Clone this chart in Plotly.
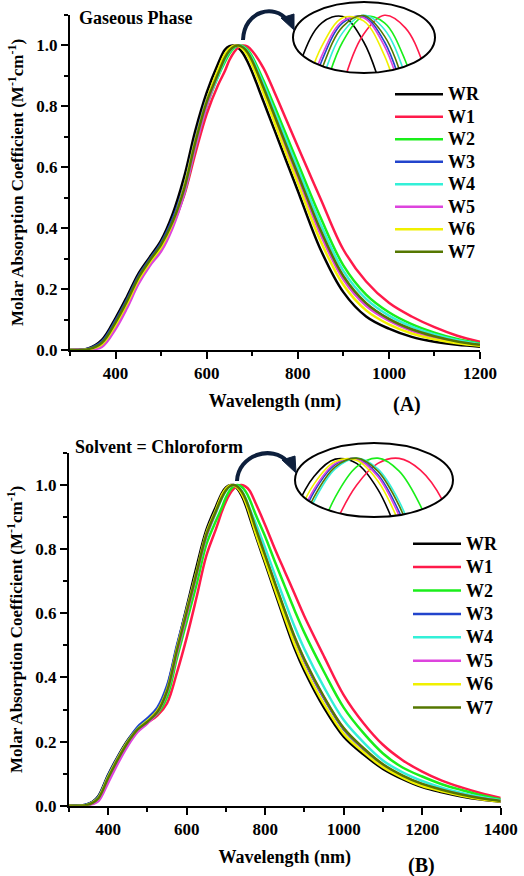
import plotly.graph_objects as go

W, H = 524, 876
FONT = "Liberation Serif, Times New Roman, serif"

names = ["WR", "W1", "W2", "W3", "W4", "W5", "W6", "W7"]
colors = ["#000000", "#FF1A4A", "#1AEE1A", "#2244CC", "#33F0D8", "#DD44DD", "#F0F000", "#557700"]

# ---------------- (A) Gaseous phase ----------------
wl_gas = [300, 340, 370, 400, 425, 450, 475, 500, 525, 550, 575, 600, 625, 640, 650, 660, 670, 680, 690, 700,
          725, 750, 775, 800, 850, 900, 950, 1000, 1050, 1100, 1150, 1200]
gas_WR = [0, .005, .033, .105, .175, .25, .305, .36, .445, .565, .72, .845, .94, .9856, .9976, .9996, .9916, .9736, .9456, .912,
          .815, .718, .62, .523, .33, .19, .11, .07, .043, .027, .017, .011]
gas_W1 = [0, .003, .022, .088, .158, .234, .292, .343, .41, .505, .645, .775, .87, .916, .952, .978, .994, 1.0, .996, .982,
          .925, .842, .755, .668, .497, .33, .225, .155, .11, .075, .047, .027]
gas_W2 = [0, .001, .017, .08, .149, .227, .285, .335, .408, .51, .664, .801, .898, .9456, .9736, .9916, .9996, .9976, .9856, .9636,
          .884, .796, .705, .614, .435, .278, .182, .124, .085, .057, .036, .021]
gas_W3 = [0, .004, .028, .097, .166, .242, .298, .352, .429, .537, .692, .823, .91, .9636, .9856, .9976, .9996, .9916, .9736, .945,
          .859, .764, .669, .575, .39, .24, .151, .101, .067, .044, .028, .017]
gas_W4 = [0, .002, .02, .085, .155, .232, .29, .34, .412, .515, .67, .805, .90, .9535, .979, .9945, 1.0, .9955, .981, .9565,
          .873, .78, .688, .596, .414, .26, .168, .113, .077, .051, .032, .019]
gas_W5 = [0, .001, .01, .069, .137, .216, .276, .324, .40, .51, .664, .801, .91, .9662, .9872, .9982, .9992, .9902, .9712, .942,
          .854, .758, .661, .567, .38, .232, .145, .096, .063, .041, .026, .016]
gas_W6 = [0, .002, .019, .083, .152, .229, .287, .338, .416, .532, .686, .819, .92, .9712, .9902, .9992, .9982, .9872, .9662, .935,
          .843, .743, .643, .548, .358, .214, .13, .084, .054, .035, .022, .014]
gas_W7 = [0, .003, .024, .091, .16, .237, .294, .346, .42, .526, .681, .814, .907, .9594, .9829, .9964, .9999, .9934, .9769, .950,
          .861, .766, .671, .578, .394, .243, .154, .102, .068, .045, .028, .017]
gas_series = [gas_WR, gas_W1, gas_W2, gas_W3, gas_W4, gas_W5, gas_W6, gas_W7]

# ---------------- (B) Chloroform ----------------
wl_chl = [300, 340, 360, 375, 400, 425, 450, 475, 500, 525, 550, 575, 600, 625, 650, 675, 690, 700, 710, 720,
          730, 740, 750, 760, 775, 800, 825, 850, 875, 900, 950, 1000, 1050, 1100, 1150, 1200, 1250, 1300, 1350, 1400]
chl_WR = [0, .002, .012, .03, .097, .155, .205, .243, .268, .30, .37, .495, .62, .745, .86, .935, .976, .9924, .9996, .9978,
          .987, .967, .938, .901, .845, .755, .665, .575, .49, .42, .305, .215, .16, .115, .083, .058, .042, .029, .019, .012]
chl_W1 = [0, .001, .008, .021, .085, .144, .194, .234, .259, .281, .32, .415, .525, .65, .78, .865, .919, .949, .9726, .9887,
          .9978, .9999, .995, .983, .945, .875, .80, .73, .66, .59, .465, .345, .258, .19, .142, .106, .078, .057, .039, .024]
chl_W2 = [0, .001, .009, .023, .087, .146, .198, .237, .262, .287, .34, .46, .575, .69, .815, .89, .9316, .9622, .9838, .9964,
          1.0, .9946, .9802, .9568, .91, .839, .76, .684, .609, .539, .417, .306, .227, .163, .119, .091, .067, .049, .033, .02]
chl_W3 = [0, .002, .011, .028, .095, .153, .203, .246, .273, .306, .375, .50, .615, .73, .85, .925, .9655, .9859, .9973, .9998,
          .9932, .9776, .953, .9195, .866, .777, .689, .603, .521, .451, .334, .238, .177, .127, .092, .066, .048, .034, .023, .014]
chl_W4 = [0, .001, .01, .025, .09, .148, .20, .239, .265, .293, .355, .48, .60, .72, .838, .915, .9595, .982, .9955, 1.0,
          .9955, .982, .9595, .928, .883, .803, .719, .637, .558, .488, .369, .267, .198, .141, .104, .077, .056, .04, .027, .017]
chl_W5 = [0, 0, .005, .014, .072, .133, .187, .23, .257, .29, .355, .475, .595, .72, .84, .92, .9672, .987, .9978, .9996,
          .9924, .976, .951, .9168, .864, .779, .692, .606, .524, .454, .337, .241, .179, .128, .093, .067, .049, .035, .023, .014]
chl_W6 = [0, .001, .01, .025, .09, .149, .20, .239, .265, .296, .362, .49, .61, .73, .85, .925, .9707, .9892, .9986, .9991,
          .9905, .973, .9464, .911, .852, .763, .674, .586, .502, .432, .316, .224, .167, .12, .087, .061, .045, .031, .02, .013]
chl_W7 = [0, .001, .009, .023, .087, .146, .198, .238, .262, .292, .358, .485, .605, .725, .845, .92, .9622, .9838, .9964, 1.0,
          .9946, .9802, .9568, .9244, .868, .78, .693, .608, .526, .456, .339, .242, .18, .129, .094, .068, .05, .035, .023, .015]
chl_series = [chl_WR, chl_W1, chl_W2, chl_W3, chl_W4, chl_W5, chl_W6, chl_W7]

xticks_gas = [400, 600, 800, 1000, 1200]
xticks_chl = [400, 600, 800, 1000, 1200, 1400]
yticks = [0.0, 0.2, 0.4, 0.6, 0.8, 1.0]


def pxx(x):
    return x / W


def pxy(y):
    return 1 - y / H


fig = go.Figure()


def legend_label(nm):
    return f"<span style='font-size:18px'>{nm}</span>"


for nm, col, ys in zip(names, colors, gas_series):
    fig.add_trace(go.Scatter(x=wl_gas, y=ys, mode="lines", name=legend_label(nm), legend="legend",
                             line=dict(color=col, width=2.5, shape="spline", smoothing=1.0),
                             xaxis="x", yaxis="y"))
for nm, col, ys in zip(names, colors, chl_series):
    fig.add_trace(go.Scatter(x=wl_chl, y=ys, mode="lines", name=legend_label(nm), legend="legend2",
                             line=dict(color=col, width=2.5, shape="spline", smoothing=1.0),
                             xaxis="x2", yaxis="y2"))
# magnified insets (same data, zoomed axes)
for nm, col, ys in zip(names, colors, gas_series):
    fig.add_trace(go.Scatter(x=wl_gas, y=ys, mode="lines", showlegend=False,
                             line=dict(color=col, width=1.6, shape="spline", smoothing=1.0),
                             xaxis="x3", yaxis="y3", hoverinfo="skip"))
for nm, col, ys in zip(names, colors, chl_series):
    fig.add_trace(go.Scatter(x=wl_chl, y=ys, mode="lines", showlegend=False,
                             line=dict(color=col, width=1.6, shape="spline", smoothing=1.0),
                             xaxis="x4", yaxis="y4", hoverinfo="skip"))

tickfont = dict(family=FONT, size=17, color="black", weight="bold")
titlefont = dict(family=FONT, size=18, color="black", weight="bold")


def xax(domain, rng, tickvals, anchor):
    return dict(domain=domain, range=rng, anchor=anchor, tickvals=tickvals, ticks="outside", ticklen=7,
                tickwidth=2, tickcolor="black", showline=True, linewidth=2, linecolor="black",
                showgrid=False, zeroline=False, tickfont=tickfont, automargin=False,
                minor=dict(dtick=100, tick0=0, ticks="outside", ticklen=4, tickwidth=2, tickcolor="black"),
                title=dict(text="Wavelength (nm)", font=titlefont, standoff=12))


def yax(domain, anchor):
    return dict(domain=domain, range=[0, 1.1], anchor=anchor, tickvals=yticks, tickformat=".1f",
                ticks="outside", ticklen=7, tickwidth=2, tickcolor="black", showline=True, linewidth=2,
                linecolor="black", showgrid=False, zeroline=False, tickfont=tickfont, automargin=False,
                minor=dict(dtick=0.1, tick0=0, ticks="outside", ticklen=4, tickwidth=2, tickcolor="black"),
                title=dict(text="Molar Absorption Coefficient (M<sup>-1</sup>cm<sup>-1</sup>)",
                           font=dict(family=FONT, size=17, color="black", weight="bold"), standoff=8))


top_ell = (293, 2, 435, 73)
bot_ell = (295, 443, 453, 517)

hidden = dict(visible=False, showgrid=False, zeroline=False, automargin=False)

fig.update_layout(
    width=W, height=H, margin=dict(l=0, r=0, t=0, b=0, autoexpand=False),
    paper_bgcolor="white", plot_bgcolor="rgba(0,0,0,0)",
    font=dict(family=FONT, color="black"),
    xaxis=xax([pxx(70), pxx(480)], [300, 1200], xticks_gas, "y"),
    yaxis=yax([pxy(350), pxy(15)], "x"),
    xaxis2=xax([pxx(69), pxx(500.7)], [300, 1400], xticks_chl, "y2"),
    yaxis2=yax([pxy(805.7), pxy(453)], "x2"),
    xaxis3=dict(hidden, domain=[pxx(top_ell[0]), pxx(top_ell[2])], range=[636.2, 704.2], anchor="y3"),
    yaxis3=dict(hidden, domain=[pxy(top_ell[3]), pxy(top_ell[1])], range=[0.9817, 1.0042], anchor="x3"),
    xaxis4=dict(hidden, domain=[pxx(bot_ell[0]), pxx(bot_ell[2])], range=[691.1, 765.3], anchor="y4"),
    yaxis4=dict(hidden, domain=[pxy(bot_ell[3]), pxy(bot_ell[1])], range=[0.9755, 1.0063], anchor="x4"),
    legend=dict(x=pxx(390), xanchor="left", y=pxy(78), yanchor="top", bgcolor="rgba(0,0,0,0)",
                font=dict(family=FONT, size=15, color="black", weight="bold"), tracegroupgap=0, itemwidth=48),
    legend2=dict(x=pxx(408), xanchor="left", y=pxy(527), yanchor="top", bgcolor="rgba(0,0,0,0)",
                 font=dict(family=FONT, size=15.7, color="black", weight="bold"), tracegroupgap=0, itemwidth=48),
    showlegend=True,
)


def P2(x, y):
    return f"{pxx(x):.5f},{pxy(y):.5f}"


def ellipse_mask(box, pad=3):
    x0, y0, x1, y1 = box
    cx, cy = (x0 + x1) / 2, (y0 + y1) / 2
    rx, ry = (x1 - x0) / 2, (y1 - y0) / 2
    k = 0.5523
    rect = (f"M{P2(x0 - pad, y0 - pad)} L{P2(x1 + pad, y0 - pad)} L{P2(x1 + pad, y1 + pad)} "
            f"L{P2(x0 - pad, y1 + pad)} Z ")
    ell = (f"M{P2(cx + rx, cy)} C{P2(cx + rx, cy + k * ry)} {P2(cx + k * rx, cy + ry)} {P2(cx, cy + ry)} "
           f"C{P2(cx - k * rx, cy + ry)} {P2(cx - rx, cy + k * ry)} {P2(cx - rx, cy)} "
           f"C{P2(cx - rx, cy - k * ry)} {P2(cx - k * rx, cy - ry)} {P2(cx, cy - ry)} "
           f"C{P2(cx + k * rx, cy - ry)} {P2(cx + rx, cy - k * ry)} {P2(cx + rx, cy)} Z")
    return rect + ell


shapes = []
for box in (top_ell, bot_ell):
    shapes.append(dict(type="path", xref="paper", yref="paper", path=ellipse_mask(box),
                       fillcolor="white", fillrule="evenodd", line=dict(width=0), layer="above"))
    shapes.append(dict(type="circle", xref="paper", yref="paper",
                       x0=pxx(box[0]), x1=pxx(box[2]), y0=pxy(box[3]), y1=pxy(box[1]),
                       line=dict(color="black", width=2), layer="above"))

arrow_col = "#0d1f3c"
shapes.append(dict(type="path", xref="paper", yref="paper", layer="above",
                   path=f"M{P2(243, 40)} C{P2(244, 10)} {P2(275, 4)} {P2(287, 20)}",
                   line=dict(color=arrow_col, width=4)))
shapes.append(dict(type="path", xref="paper", yref="paper", layer="above",
                   path=f"M{P2(281, 18)} L{P2(294, 14)} L{P2(294, 30)} Z",
                   fillcolor=arrow_col, line=dict(color=arrow_col, width=1)))
shapes.append(dict(type="path", xref="paper", yref="paper", layer="above",
                   path=f"M{P2(237, 481)} C{P2(238, 455)} {P2(272, 444)} {P2(288, 462)}",
                   line=dict(color=arrow_col, width=4)))
shapes.append(dict(type="path", xref="paper", yref="paper", layer="above",
                   path=f"M{P2(282, 460)} L{P2(295, 456)} L{P2(296, 473)} Z",
                   fillcolor=arrow_col, line=dict(color=arrow_col, width=1)))
fig.update_layout(shapes=shapes)

ann_font = dict(family=FONT, size=18, color="black", weight="bold")
annotations = [
    dict(text="Gaseous Phase", x=pxx(77), y=pxy(18), xref="paper", yref="paper", xanchor="left",
         yanchor="middle", showarrow=False, font=ann_font),
    dict(text="Solvent = Chloroform", x=pxx(73), y=pxy(447), xref="paper", yref="paper", xanchor="left",
         yanchor="middle", showarrow=False, font=ann_font),
    dict(text="(A)", x=pxx(407), y=pxy(405), xref="paper", yref="paper", xanchor="center",
         yanchor="middle", showarrow=False, font=dict(family=FONT, size=20, color="black", weight="bold")),
    dict(text="(B)", x=pxx(421), y=pxy(865), xref="paper", yref="paper", xanchor="center",
         yanchor="middle", showarrow=False, font=dict(family=FONT, size=20, color="black", weight="bold")),
]
fig.update_layout(annotations=annotations)

fig.write_html("out.html", config={"displayModeBar": False},
               post_script="document.body.style.margin='0';document.body.style.overflow='hidden';")
